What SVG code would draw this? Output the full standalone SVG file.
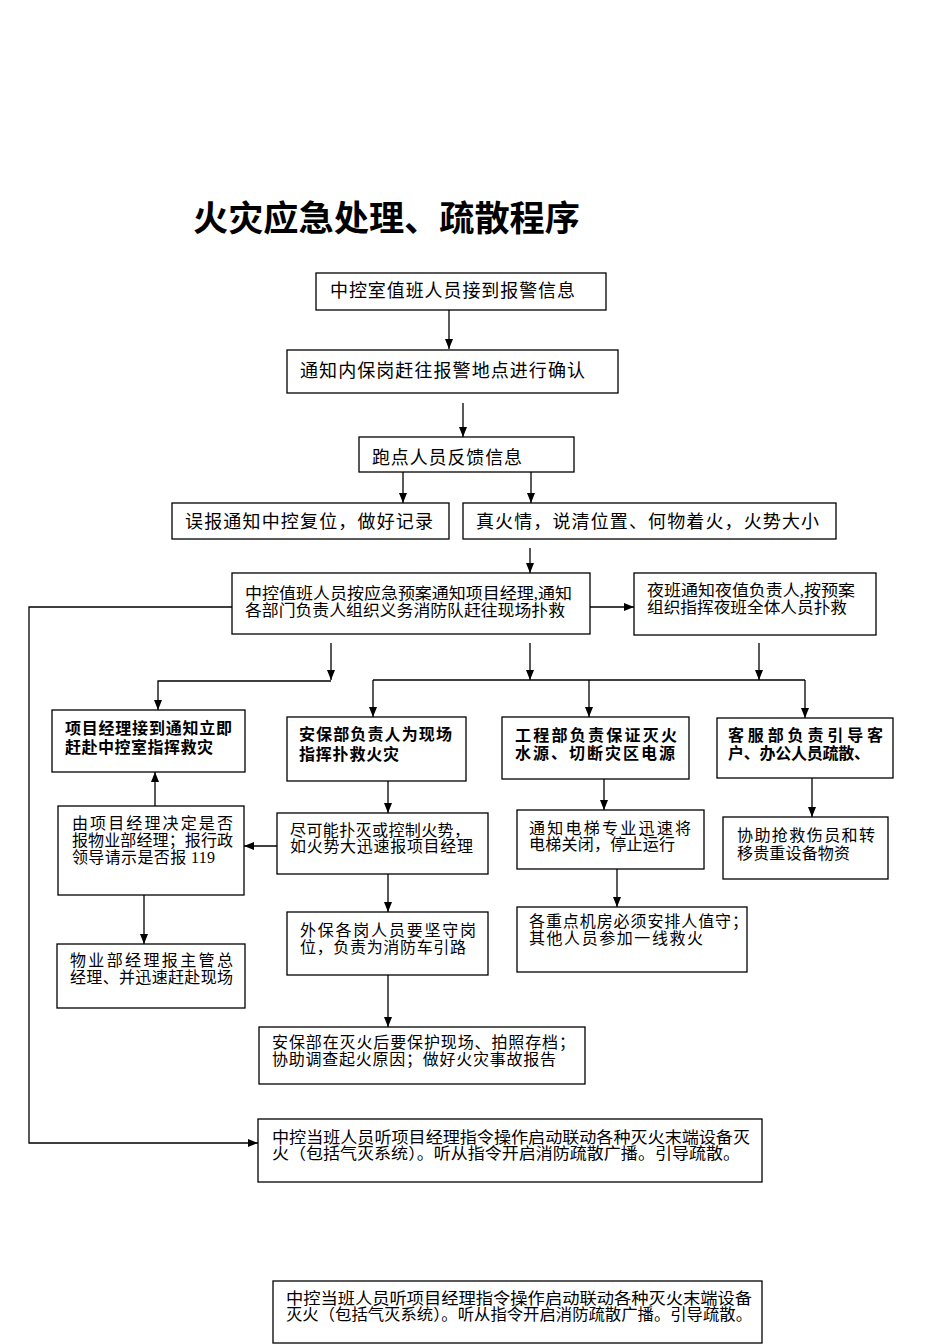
<svg xmlns="http://www.w3.org/2000/svg" width="950" height="1344" viewBox="0 0 950 1344">
<style>
.box{fill:#fff;stroke:#000;stroke-width:1.3}
.conn{fill:none;stroke:#000;stroke-width:1.3}
.t18{font-family:"Liberation Serif","Noto Sans CJK SC",serif;font-size:18px;fill:#000}
.t16{font-family:"Liberation Serif","Noto Sans CJK SC",serif;font-size:16px;fill:#000}
.b16{font-family:"Liberation Sans","Noto Sans CJK SC",sans-serif;font-size:16px;font-weight:700;fill:#000}
.title{font-family:"Liberation Sans","Noto Sans CJK SC",sans-serif;font-size:35px;font-weight:700;fill:#000}
</style>
<defs>
<marker id="ah" viewBox="0 0 10 8" refX="10" refY="4" markerWidth="10" markerHeight="8" markerUnits="userSpaceOnUse" orient="auto"><path d="M0,0 L10,4 L0,8 z" fill="#000"/></marker>
</defs>
<rect width="950" height="1344" fill="#fff"/>
<text id="title" class="title" x="193" y="231" textLength="387" lengthAdjust="spacingAndGlyphs">火灾应急处理、疏散程序</text>

<g id="connectors">
<path class="conn" d="M449,310 V349" marker-end="url(#ah)"/>
<path class="conn" d="M463,403 V437" marker-end="url(#ah)"/>
<path class="conn" d="M403,472 V503" marker-end="url(#ah)"/>
<path class="conn" d="M531,466 V503" marker-end="url(#ah)"/>
<path class="conn" d="M530,548 V573" marker-end="url(#ah)"/>
<path class="conn" d="M590,607 H634" marker-end="url(#ah)"/>
<path class="conn" d="M232,607 H29 V1143 H258" marker-end="url(#ah)"/>
<path class="conn" d="M331,643 V680" marker-end="url(#ah)"/>
<path class="conn" d="M331,681 H158 V710" marker-end="url(#ah)"/>
<path class="conn" d="M530,643 V680" marker-end="url(#ah)"/>
<path class="conn" d="M759,643 V680" marker-end="url(#ah)"/>
<path class="conn" d="M373,680 H805"/>
<path class="conn" d="M373,680 V717" marker-end="url(#ah)"/>
<path class="conn" d="M589,680 V717" marker-end="url(#ah)"/>
<path class="conn" d="M805,680 V718" marker-end="url(#ah)"/>
<path class="conn" d="M388,781 V813" marker-end="url(#ah)"/>
<path class="conn" d="M277,846 H244" marker-end="url(#ah)"/>
<path class="conn" d="M155,806 V772" marker-end="url(#ah)"/>
<path class="conn" d="M144,895 V944" marker-end="url(#ah)"/>
<path class="conn" d="M388,874 V912" marker-end="url(#ah)"/>
<path class="conn" d="M388,975 V1027" marker-end="url(#ah)"/>
<path class="conn" d="M604,779 V810" marker-end="url(#ah)"/>
<path class="conn" d="M617,869 V907" marker-end="url(#ah)"/>
<path class="conn" d="M812,778 V817" marker-end="url(#ah)"/>
</g>

<g id="n1"><rect class="box" x="316" y="273" width="290" height="37"/>
<text class="t18" x="330" y="297" textLength="245" lengthAdjust="spacing">中控室值班人员接到报警信息</text></g>

<g id="n2"><rect class="box" x="287" y="350" width="331" height="43"/>
<text class="t18" x="300" y="377" textLength="285" lengthAdjust="spacing">通知内保岗赶往报警地点进行确认</text></g>

<g id="n3"><rect class="box" x="359" y="437" width="215" height="35"/>
<text class="t18" x="372" y="464" textLength="150" lengthAdjust="spacing">跑点人员反馈信息</text></g>

<g id="n4"><rect class="box" x="172" y="503" width="277" height="36"/>
<text class="t18" x="185" y="528" textLength="248" lengthAdjust="spacing">误报通知中控复位，做好记录</text></g>

<g id="n5"><rect class="box" x="463" y="503" width="373" height="36"/>
<text class="t18" x="476" y="528" textLength="343" lengthAdjust="spacing">真火情，说清位置、何物着火，火势大小</text></g>

<g id="n6"><rect class="box" x="232" y="573" width="358" height="61"/>
<text class="t16" x="245" y="599" textLength="327" lengthAdjust="spacingAndGlyphs">中控值班人员按应急预案通知项目经理,通知</text>
<text class="t16" x="245" y="616" textLength="320" lengthAdjust="spacingAndGlyphs">各部门负责人组织义务消防队赶往现场扑救</text></g>

<g id="n7"><rect class="box" x="634" y="573" width="242" height="62"/>
<text class="t16" x="647" y="596" textLength="208" lengthAdjust="spacingAndGlyphs">夜班通知夜值负责人,按预案</text>
<text class="t16" x="647" y="613" textLength="200" lengthAdjust="spacingAndGlyphs">组织指挥夜班全体人员扑救</text></g>

<g id="n8"><rect class="box" x="52" y="710" width="193" height="62"/>
<text class="b16" x="65" y="734" textLength="167" lengthAdjust="spacing">项目经理接到通知立即</text>
<text class="b16" x="65" y="753" textLength="148" lengthAdjust="spacing">赶赴中控室指挥救灾</text></g>

<g id="n9"><rect class="box" x="287" y="717" width="179" height="64"/>
<text class="b16" x="299" y="740" textLength="153" lengthAdjust="spacing">安保部负责人为现场</text>
<text class="b16" x="299" y="760" textLength="100" lengthAdjust="spacing">指挥扑救火灾</text></g>

<g id="n10"><rect class="box" x="502" y="717" width="187" height="62"/>
<text class="b16" x="515" y="741" textLength="162" lengthAdjust="spacing">工程部负责保证灭火</text>
<text class="b16" x="515" y="759" textLength="160" lengthAdjust="spacing">水源、切断灾区电源</text></g>

<g id="n11"><rect class="box" x="717" y="718" width="176" height="60"/>
<text class="b16" x="728" y="741" textLength="155" lengthAdjust="spacing">客服部负责引导客</text>
<text class="b16" x="728" y="759" textLength="142" lengthAdjust="spacing">户、办公人员疏散、</text></g>

<g id="n12"><rect class="box" x="277" y="813" width="211" height="61"/>
<text class="t16" x="290" y="836" textLength="180" lengthAdjust="spacing">尽可能扑灭或控制火势，</text>
<text class="t16" x="290" y="852" textLength="183" lengthAdjust="spacing">如火势大迅速报项目经理</text></g>

<g id="n13"><rect class="box" x="58" y="806" width="186" height="89"/>
<text class="t16" x="72" y="829" textLength="161" lengthAdjust="spacing">由项目经理决定是否</text>
<text class="t16" x="72" y="846" textLength="161" lengthAdjust="spacing">报物业部经理；报行政</text>
<text class="t16" x="72" y="863" textLength="143" lengthAdjust="spacing">领导请示是否报 119</text></g>

<g id="n14"><rect class="box" x="57" y="944" width="188" height="64"/>
<text class="t16" x="70" y="966" textLength="163" lengthAdjust="spacing">物业部经理报主管总</text>
<text class="t16" x="70" y="983" textLength="163" lengthAdjust="spacing">经理、并迅速赶赴现场</text></g>

<g id="n15"><rect class="box" x="287" y="912" width="201" height="63"/>
<text class="t16" x="300" y="936" textLength="176" lengthAdjust="spacing">外保各岗人员要坚守岗</text>
<text class="t16" x="300" y="953" textLength="166" lengthAdjust="spacing">位，负责为消防车引路</text></g>

<g id="n16"><rect class="box" x="259" y="1027" width="326" height="57"/>
<text class="t16" x="272" y="1048" textLength="303" lengthAdjust="spacing">安保部在灭火后要保护现场、拍照存档；</text>
<text class="t16" x="272" y="1065" textLength="284" lengthAdjust="spacing">协助调查起火原因；做好火灾事故报告</text></g>

<g id="n17"><rect class="box" x="517" y="810" width="187" height="59"/>
<text class="t16" x="529" y="834" textLength="162" lengthAdjust="spacing">通知电梯专业迅速将</text>
<text class="t16" x="529" y="850" textLength="146" lengthAdjust="spacing">电梯关闭，停止运行</text></g>

<g id="n18"><rect class="box" x="517" y="907" width="230" height="65"/>
<text class="t16" x="529" y="927" textLength="219" lengthAdjust="spacing">各重点机房必须安排人值守；</text>
<text class="t16" x="529" y="944" textLength="174" lengthAdjust="spacing">其他人员参加一线救火</text></g>

<g id="n19"><rect class="box" x="723" y="817" width="165" height="62"/>
<text class="t16" x="737" y="841" textLength="138" lengthAdjust="spacing">协助抢救伤员和转</text>
<text class="t16" x="737" y="859" textLength="113" lengthAdjust="spacing">移贵重设备物资</text></g>

<g id="n20"><rect class="box" x="258" y="1119" width="504" height="63"/>
<text class="t16" x="272" y="1143" textLength="478" lengthAdjust="spacingAndGlyphs">中控当班人员听项目经理指令操作启动联动各种灭火末端设备灭</text>
<text class="t16" x="272" y="1159" textLength="468" lengthAdjust="spacingAndGlyphs">火（包括气灭系统）。听从指令开启消防疏散广播。引导疏散。</text></g>

<g id="n21"><rect class="box" x="273" y="1281" width="489" height="62"/>
<text class="t16" x="286" y="1304" textLength="466" lengthAdjust="spacingAndGlyphs">中控当班人员听项目经理指令操作启动联动各种灭火末端设备</text>
<text class="t16" x="286" y="1320" textLength="466" lengthAdjust="spacingAndGlyphs">灭火（包括气灭系统）。听从指令开启消防疏散广播。引导疏散。</text></g>
</svg>
